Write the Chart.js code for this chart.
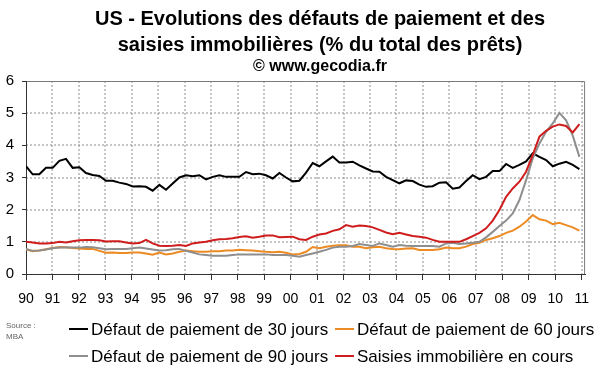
<!DOCTYPE html>
<html>
<head>
<meta charset="utf-8">
<script src="https://cdn.jsdelivr.net/npm/chart.js@4.4.0/dist/chart.umd.min.js"></script>
<style>
  html, body { margin: 0; padding: 0; background: #fff; }
</style>
</head>
<body>
<canvas id="chart" width="600" height="372"></canvas>
<script>
// données trimestrielles MBA, 1990 T1 -> 2010 T4 (% du total des prêts)
const def30 = [3.35, 3.10, 3.10, 3.30, 3.30, 3.52, 3.58, 3.30, 3.32, 3.14,
    3.08, 3.05, 2.90, 2.90, 2.84, 2.80, 2.72, 2.73, 2.71, 2.59,
    2.77, 2.62, 2.81, 3.00, 3.07, 3.04, 3.07, 2.94, 3.02, 3.07,
    3.02, 3.02, 3.02, 3.17, 3.10, 3.12, 3.07, 2.97, 3.14, 3.00,
    2.88, 2.90, 3.15, 3.45, 3.35, 3.50, 3.65, 3.47, 3.47, 3.49,
    3.38, 3.28, 3.19, 3.18, 3.02, 2.92, 2.82, 2.91, 2.89, 2.78,
    2.71, 2.73, 2.84, 2.85, 2.65, 2.69, 2.89, 3.07, 2.95, 3.02,
    3.20, 3.20, 3.42, 3.30, 3.39, 3.50, 3.75, 3.64, 3.54, 3.35,
    3.43, 3.49, 3.39, 3.26];
const def60 = [0.76, 0.71, 0.73, 0.77, 0.81, 0.84, 0.83, 0.81, 0.79, 0.78,
    0.78, 0.72, 0.66, 0.67, 0.65, 0.65, 0.67, 0.67, 0.64, 0.60,
    0.67, 0.61, 0.64, 0.69, 0.73, 0.71, 0.69, 0.69, 0.71, 0.71,
    0.73, 0.73, 0.75, 0.74, 0.73, 0.71, 0.69, 0.68, 0.69, 0.66,
    0.61, 0.62, 0.69, 0.84, 0.80, 0.85, 0.88, 0.89, 0.89, 0.85,
    0.85, 0.80, 0.83, 0.85, 0.80, 0.78, 0.77, 0.79, 0.80, 0.75,
    0.75, 0.75, 0.77, 0.82, 0.80, 0.80, 0.85, 0.93, 0.97, 1.06,
    1.11, 1.18, 1.28, 1.35, 1.47, 1.63, 1.83, 1.70, 1.66, 1.55,
    1.59, 1.52, 1.45, 1.35];
const def90 = [0.78, 0.72, 0.73, 0.76, 0.80, 0.82, 0.82, 0.82, 0.82, 0.84,
    0.83, 0.80, 0.77, 0.78, 0.78, 0.78, 0.80, 0.82, 0.79, 0.76,
    0.73, 0.74, 0.77, 0.78, 0.72, 0.67, 0.61, 0.59, 0.57, 0.57,
    0.57, 0.59, 0.61, 0.61, 0.61, 0.61, 0.61, 0.59, 0.59, 0.59,
    0.57, 0.54, 0.59, 0.64, 0.69, 0.75, 0.82, 0.85, 0.85, 0.87,
    0.93, 0.90, 0.87, 0.95, 0.90, 0.85, 0.90, 0.88, 0.87, 0.87,
    0.87, 0.87, 0.85, 0.95, 0.97, 0.93, 0.95, 0.97, 1.00, 1.14,
    1.31, 1.49, 1.66, 1.88, 2.30, 2.92, 3.59, 4.06, 4.42, 4.68,
    5.01, 4.78, 4.30, 3.64];
const saisies = [1.00, 0.98, 0.95, 0.95, 0.96, 1.00, 0.98, 1.02, 1.05, 1.06,
    1.06, 1.05, 1.01, 1.02, 1.02, 0.98, 0.95, 0.96, 1.06, 0.95,
    0.88, 0.87, 0.88, 0.90, 0.87, 0.95, 0.98, 1.00, 1.05, 1.08,
    1.09, 1.11, 1.15, 1.17, 1.13, 1.16, 1.20, 1.20, 1.14, 1.15,
    1.16, 1.08, 1.06, 1.16, 1.23, 1.26, 1.34, 1.39, 1.52, 1.47,
    1.51, 1.49, 1.45, 1.37, 1.29, 1.24, 1.28, 1.23, 1.18, 1.16,
    1.13, 1.06, 1.00, 1.00, 1.00, 1.00, 1.08, 1.18, 1.28, 1.42,
    1.66, 1.99, 2.40, 2.66, 2.87, 3.18, 3.70, 4.27, 4.45, 4.58,
    4.65, 4.60, 4.40, 4.66];

const seriesLabels = [
    'Défaut de paiement de 30 jours',
    'Défaut de paiement de 60 jours',
    'Défaut de paiement de 90 jours',
    'Saisies immobilière en cours'
];
const seriesColors = ['#000000', '#ec8a23', '#8e8e8e', '#cf1d1d'];

const yearTicks = [1990, 1991, 1992, 1993, 1994, 1995, 1996, 1997, 1998, 1999, 2000,
    2001, 2002, 2003, 2004, 2005, 2006, 2007, 2008, 2009, 2010, 2011];
const yTicks = [0, 1, 2, 3, 4, 5, 6];

const titleLines = [
    'US - Evolutions des défauts de paiement et des',
    'saisies immobilières (% du total des prêts)'
];
const subTitle = '© www.gecodia.fr';

const FONT = "'Liberation Sans', Arial, sans-serif";
const firstYear = 1990;
const quarterStep = 0.252;

function toPoints(values) {
    return values.map((v, i) => ({ x: firstYear + i * quarterStep, y: v }));
}

// grille pointillée + cadre gris, glissés derrière ce qui est déjà dessiné
function drawGrid(chart) {
    const { ctx, chartArea: a, scales } = chart;
    ctx.save();
    ctx.globalCompositeOperation = 'destination-over';
    ctx.strokeStyle = '#7a7a7a';
    ctx.lineWidth = 1;
    ctx.setLineDash([]);
    ctx.beginPath();
    ctx.moveTo(a.left, a.top + 0.5);
    ctx.lineTo(a.right - 0.5, a.top + 0.5);
    ctx.lineTo(a.right - 0.5, a.bottom);
    ctx.stroke();

    ctx.strokeStyle = '#8c8c8c';
    ctx.lineWidth = 1;
    ctx.setLineDash([2, 2]);
    ctx.beginPath();
    yearTicks.slice(1).forEach(v => {
        const x = Math.round(scales.x.getPixelForValue(v));
        ctx.moveTo(x, a.top);
        ctx.lineTo(x, a.bottom);
    });
    yTicks.slice(1, -1).forEach(v => {
        const y = Math.round(scales.y.getPixelForValue(v));
        ctx.moveTo(a.left, y);
        ctx.lineTo(a.right, y);
    });
    ctx.stroke();

    // fond blanc tout derrière
    ctx.setLineDash([]);
    ctx.fillStyle = '#fff';
    ctx.fillRect(0, 0, chart.width, chart.height);
    ctx.restore();
}

// titre, légende et source
const decor = {
    id: 'decor',
    afterDraw(chart) {
        drawGrid(chart);
        const ctx = chart.ctx;
        ctx.save();
        ctx.fillStyle = '#000';
        ctx.textAlign = 'center';
        ctx.textBaseline = 'middle';
        ctx.font = 'bold 20px ' + FONT;
        ctx.fillText(titleLines[0], 320, 19);
        ctx.fillText(titleLines[1], 320, 45);
        ctx.font = 'bold 16px ' + FONT;
        ctx.fillText(subTitle, 320, 67);

        // légende sur deux lignes
        const spots = [[69, 329], [335, 329], [69, 356], [335, 356]];
        ctx.textAlign = 'left';
        ctx.font = '17px ' + FONT;
        chart.data.datasets.forEach((ds, i) => {
            const [x, y] = spots[i];
            ctx.strokeStyle = ds.borderColor;
            ctx.lineWidth = 2;
            ctx.beginPath();
            ctx.moveTo(x, y);
            ctx.lineTo(x + 19, y);
            ctx.stroke();
            ctx.fillStyle = '#000';
            ctx.fillText(ds.label, x + 22, y + 1);
        });

        ctx.fillStyle = '#666';
        ctx.font = '8px ' + FONT;
        ctx.fillText('Source :', 6, 326);
        ctx.fillText('MBA', 6, 337);
        ctx.restore();
    }
};

const ctx = document.getElementById('chart').getContext('2d');
const chart = new Chart(ctx, {
    type: 'line',
    data: {
        datasets: [def30, def60, def90, saisies].map((vals, i) => ({
            label: seriesLabels[i],
            data: toPoints(vals),
            borderColor: seriesColors[i],
            backgroundColor: seriesColors[i],
            borderWidth: 2,
            pointRadius: 0,
            tension: 0,
            order: 4 - i
        }))
    },
    options: {
        responsive: false,
        animation: false,
        devicePixelRatio: 1,
        layout: { padding: { left: 0, right: 14, top: 81, bottom: 62 } },
        plugins: {
            legend: { display: false },
            title: { display: false },
            tooltip: { enabled: false }
        },
        scales: {
            x: {
                type: 'linear',
                min: 1990,
                max: 2011.13,
                afterBuildTicks: (scale) => {
                    scale.ticks = yearTicks.map(v => ({ value: v }));
                },
                afterFit: (scale) => { scale.height = 36; },
                ticks: {
                    color: '#000',
                    font: { family: FONT, size: 14 },
                    padding: 11,
                    maxRotation: 0,
                    autoSkip: false,
                    callback: (v) => String(v % 100).padStart(2, '0')
                },
                grid: {
                    drawOnChartArea: false,
                    tickColor: '#333',
                    tickLength: 6
                },
                border: { color: '#333', width: 1 }
            },
            y: {
                min: 0,
                max: 6,
                afterBuildTicks: (scale) => {
                    scale.ticks = yTicks.map(v => ({ value: v }));
                },
                afterFit: (scale) => { scale.width = 26; },
                ticks: {
                    color: '#000',
                    font: { family: FONT, size: 15 },
                    padding: 8
                },
                grid: {
                    drawOnChartArea: false,
                    tickColor: '#333',
                    tickLength: 4
                },
                border: { color: '#333', width: 1 }
            }
        }
    },
    plugins: [decor]
});
</script>
</body>
</html>
